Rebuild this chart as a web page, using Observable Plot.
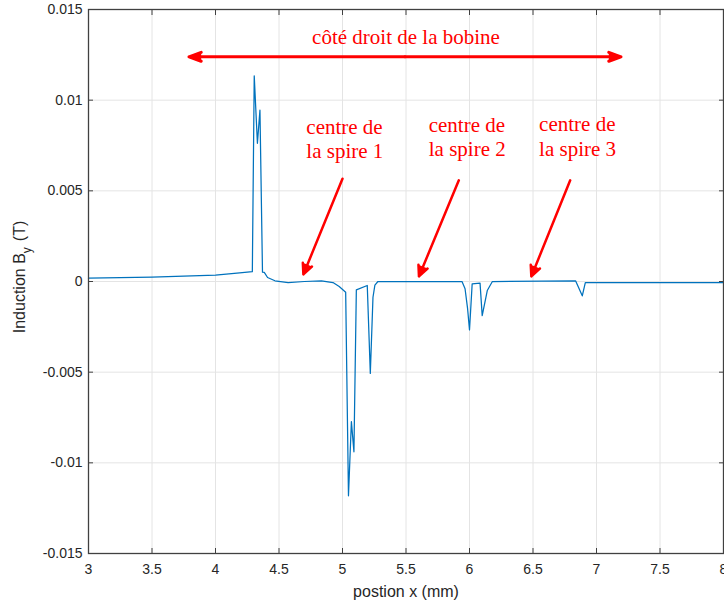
<!DOCTYPE html>
<html>
<head>
<meta charset="utf-8">
<script src="https://cdn.jsdelivr.net/npm/d3@7"></script>
<script src="https://cdn.jsdelivr.net/npm/@observablehq/plot@0.6"></script>
<style>
  body { margin: 0; background: #fff; }
  svg { display: block; }
</style>
</head>
<body>
<div id="chart"></div>
<script>
// ---- data ----
const positionMm = [
  3.0, 3.5, 4.0, 4.19, 4.29, 4.305, 4.33, 4.35, 4.37, 4.384, 4.41, 4.468, 4.572, 4.70, 4.834, 4.925, 4.974,
  5.025, 5.047, 5.07, 5.09, 5.109, 5.195, 5.219, 5.24, 5.255, 5.279,
  5.941, 5.965, 5.985, 6.0, 6.021, 6.083, 6.10, 6.14, 6.18,
  6.836, 6.888, 6.912, 8.0
];
const inductionBy = [
  0.00018, 0.00024, 0.00035, 0.00047, 0.00054, 0.01134, 0.00762, 0.00945, 0.00051, 0.00050, 0.00022, 0.00004, -0.00006, 0.0, 0.00003, -0.00006, -0.00028,
  -0.00059, -0.01182, -0.00773, -0.00939, -0.00046, -0.00022, -0.00507, -0.00087, -0.00020, 0.0,
  0.0, -0.00040, -0.00150, -0.00267, -0.00013, -0.00009, -0.00188, -0.00050, 0.0,
  0.00003, -0.00079, -0.00006, -0.00006
];
const xTicks = [3, 3.5, 4, 4.5, 5, 5.5, 6, 6.5, 7, 7.5, 8];
const xTickLabels = ["3", "3.5", "4", "4.5", "5", "5.5", "6", "6.5", "7", "7.5", "8"];
const yTicks = [-0.015, -0.01, -0.005, 0, 0.005, 0.01, 0.015];
const yTickLabels = ["-0.015", "-0.01", "-0.005", "0", "0.005", "0.01", "0.015"];

// annotations (data coordinates)
const spanText = ["côté droit de la bobine"];
const spanTextX = [5.5];
const spanTextY = [0.01348];
const spanEndsX = [3.791, 7.193];
const spanArrowY = [0.01239, 0.01239];

const spireTexts = ["centre de\nla spire 1", "centre de\nla spire 2", "centre de\nla spire 3"];
const spireTextX = [4.715, 5.679, 6.548];
const spireTextY = [0.0079, 0.00802, 0.00804];
const spireArrowX1 = [5.0, 5.916, 6.793];
const spireArrowY1 = [0.00567, 0.00558, 0.00558];
const spireArrowX2 = [4.692, 5.602, 6.487];
const spireArrowY2 = [0.00039, 0.00028, 0.00028];

// ---- tables built from the arrays ----
const curve = positionMm.map((x, i) => ({x, b: inductionBy[i]}));
const spanMid = (spanEndsX[0] + spanEndsX[1]) / 2;
const spanArrows = spanEndsX.map((x, i) => ({x1: spanMid, y1: spanArrowY[i], x2: x, y2: spanArrowY[i]}));
const spanLabels = spanText.map((t, i) => ({t, x: spanTextX[i], y: spanTextY[i]}));
const spireLabels = spireTexts.map((t, i) => ({t, x: spireTextX[i], y: spireTextY[i]}));
const spireArrows = spireArrowX1.map((x1, i) => ({x1, y1: spireArrowY1[i], x2: spireArrowX2[i], y2: spireArrowY2[i]}));

const tickFont = "Liberation Sans, Arial, Helvetica, sans-serif";
const serifFont = "Liberation Serif, Times New Roman, serif";
const axisColor = "#404040";
const gridColor = "#e4e4e4";
const red = "#ff0000";

const chart = Plot.plot({
  width: 724,
  height: 608,
  marginLeft: 88,
  marginRight: 1,
  marginTop: 9,
  marginBottom: 55,
  style: {fontFamily: tickFont, fontSize: "14px", color: "#262626", background: "#fff"},
  x: {domain: [3, 8], label: null},
  y: {domain: [-0.015, 0.015], label: null},
  marks: [
    Plot.gridX(xTicks, {stroke: gridColor, strokeOpacity: 1}),
    Plot.gridY(yTicks, {stroke: gridColor, strokeOpacity: 1}),
    Plot.line(curve, {x: "x", y: "b", stroke: "#0072BD", strokeWidth: 1.25}),
    Plot.frame({stroke: axisColor, strokeWidth: 1.3}),
    // inward ticks on all four sides
    Plot.axisX(xTicks, {anchor: "bottom", tickSize: -5, tickFormat: () => "", stroke: axisColor, label: null}),
    Plot.axisX(xTicks, {anchor: "top", tickSize: -5, tickFormat: () => "", stroke: axisColor, label: null}),
    Plot.axisY(yTicks, {anchor: "left", tickSize: -5, tickFormat: () => "", stroke: axisColor, label: null}),
    Plot.axisY(yTicks, {anchor: "right", tickSize: -5, tickFormat: () => "", stroke: axisColor, label: null}),
    // tick labels
    Plot.axisX(xTicks, {anchor: "bottom", tickSize: 0, tickPadding: 11, tickFormat: d => xTickLabels[xTicks.indexOf(d)], fill: "#262626", fontSize: 14, label: null}),
    Plot.axisY(yTicks, {anchor: "left", tickSize: 0, tickPadding: 6, tickFormat: d => yTickLabels[yTicks.indexOf(d)], fill: "#262626", fontSize: 14, label: null}),
    // x-axis title
    Plot.text(["postion x (mm)"], {frameAnchor: "bottom", dy: 43, fontSize: 16, fill: "#262626"}),
    // annotations
    Plot.arrow(spanArrows, {x1: "x1", y1: "y1", x2: "x2", y2: "y2", stroke: red, fill: red, strokeWidth: 3, headLength: 6.5, headAngle: 40}),
    Plot.text(spanLabels, {x: "x", y: "y", text: "t", fill: red, fontSize: 21, fontFamily: serifFont}),
    Plot.text(spireLabels, {x: "x", y: "y", text: "t", fill: red, fontSize: 21, textAnchor: "start", lineHeight: 1.15, fontFamily: serifFont}),
    Plot.arrow(spireArrows, {x1: "x1", y1: "y1", x2: "x2", y2: "y2", stroke: red, fill: red, strokeWidth: 2.5, headLength: 7, headAngle: 50})
  ]
});

// y-axis title with subscript
const svg = d3.select(chart);
const yTitle = svg.append("text")
  .attr("transform", "translate(25,277) rotate(-90)")
  .attr("text-anchor", "middle")
  .attr("font-family", tickFont)
  .attr("font-size", 16)
  .attr("fill", "#262626");
yTitle.append("tspan").text("Induction B");
yTitle.append("tspan").attr("font-size", 12).attr("dy", 6).text("y");
yTitle.append("tspan").attr("dy", -6).attr("dx", 6).text("(T)");

document.getElementById("chart").appendChild(chart);
</script>
</body>
</html>
